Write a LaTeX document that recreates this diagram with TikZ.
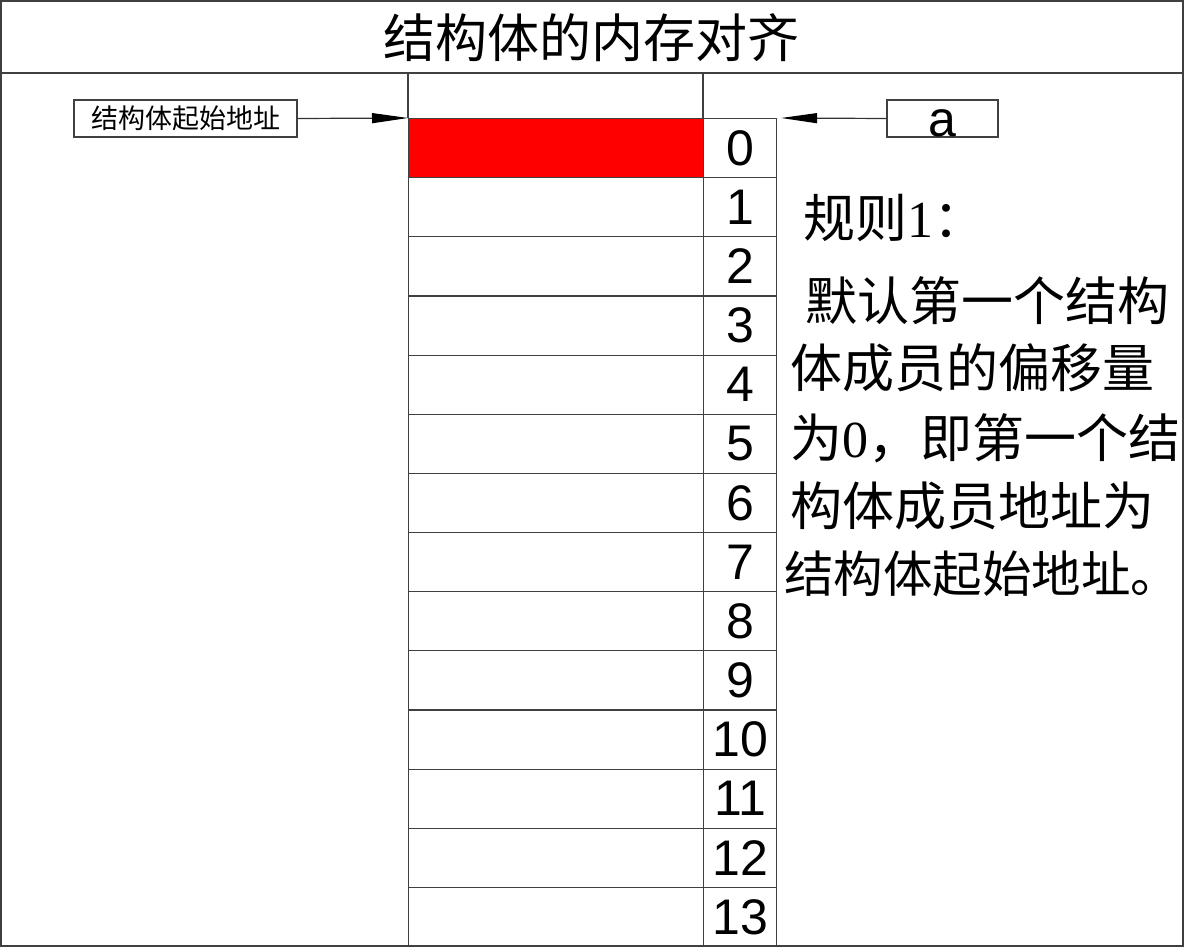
\documentclass[tikz,border=0pt]{standalone}
\usepackage{fontspec}
\setmainfont{Liberation Sans}
\newfontfamily\cjk{Noto Sans CJK SC}
\newfontfamily\serifdigit{Liberation Serif}
\usetikzlibrary{arrows.meta}
\begin{document}
\begin{tikzpicture}[x=1pt,y=-1pt,
  ln/.style={draw=black!75, line width=1.2pt},
  memcell/.style={ln, minimum width=295pt, minimum height=59.14pt, inner sep=0pt, anchor=north west},
  idxcell/.style={ln, minimum width=73pt, minimum height=59.14pt, inner sep=0pt, anchor=north west, font=\fontsize{50}{50}\selectfont},
  tagbox/.style={ln, inner sep=0pt, minimum height=37pt},
  ptr/.style={draw=black!80, line width=1.2pt, -{Triangle[length=36pt,width=10pt,fill=black,color=black]}},
  ruletext/.style={anchor=base west, inner sep=0pt, font=\cjk\fontsize{52}{52}\selectfont}
]
\useasboundingbox (0,0) rectangle (1184,947);
\draw[ln] (1,1) rectangle (1183,946);
\draw[ln] (1,73) -- (1183,73);
\node[font=\cjk\fontsize{52}{52}\selectfont, anchor=base, inner sep=0pt] (title) at (591,58) {结构体的内存对齐};

\node[memcell, fill=red] (m0) at (408,118) {};
\node[idxcell] (n0) at (703,118) {0};
\foreach \i in {1,...,13} {
  \node[memcell] (m\i) at (408,{118+59.14*\i}) {};
  \node[idxcell] (n\i) at (703,{118+59.14*\i}) {\i};
}
\draw[ln] (408,73) -- (m0.north west);
\draw[ln] (703,73) -- (n0.north west);

\node[tagbox, minimum width=223pt, font=\cjk\fontsize{27}{27}\selectfont] (lbl) at (185.5,118.5) {结构体起始地址};
\node[tagbox, minimum width=111pt, text height=37pt, text depth=0pt, font=\fontsize{50}{50}\selectfont] (a) at (942.5,118.5) {a};

\draw[ptr] (lbl.east) -- (m0.north west);
\draw[ptr] (a.west) -- ([xshift=4pt]n0.north east);

\node[ruletext] (r0) at (803,237) {规则{\serifdigit 1}：};
\node[ruletext] (r1) at (805,320) {默认第一个结构};
\node[ruletext] (r2) at (790,387) {体成员的偏移量};
\node[ruletext] (r3) at (790,457) {为{\serifdigit 0}，即第一个结};
\node[ruletext] (r4) at (790,525) {构体成员地址为};
\node[ruletext, font=\cjk\fontsize{49.5}{49.5}\selectfont] (r5) at (784,592) {结构体起始地址。};
\end{tikzpicture}
\end{document}
